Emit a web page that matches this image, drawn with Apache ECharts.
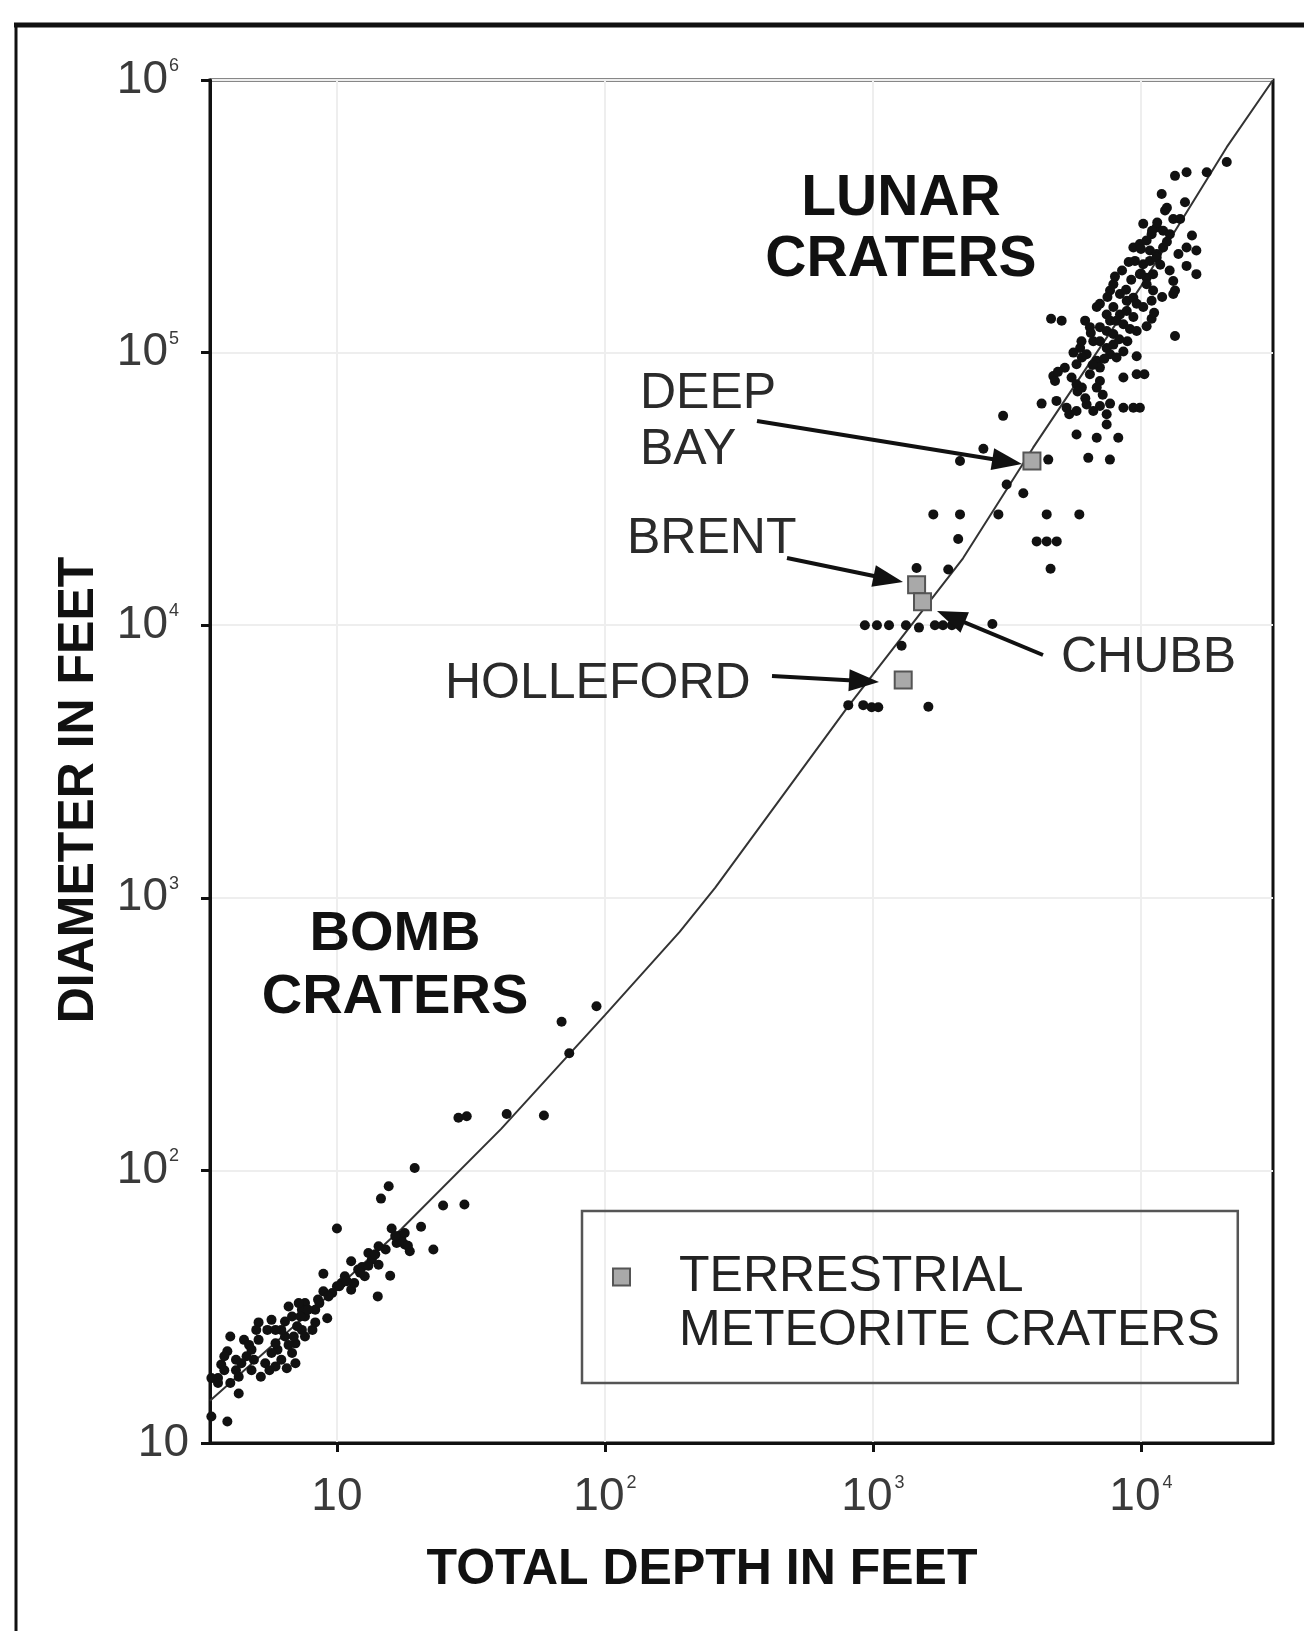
<!DOCTYPE html>
<html>
<head>
<meta charset="utf-8">
<title>Crater depth vs diameter</title>
<script src="https://cdn.jsdelivr.net/npm/echarts@6.0.0/dist/echarts.min.js"></script>
<style>
  html, body { margin: 0; padding: 0; background: #fff; }
  #chart { width: 1304px; height: 1631px; }
</style>
</head>
<body>
<div id="chart"></div>
<script>
// [total depth ft, diameter ft]
var bombCraters = [
    [19.5, 102], [15.6, 87.5], [14.6, 78.8], [24.9, 74.3], [29.9, 75], [10, 61.2], [16, 61.2], [20.6, 62.1],
    [22.9, 51.3], [17.1, 57.4], [17.9, 53.5], [18.7, 50.5], [16.7, 54.2], [14.3, 52.7], [13.1, 49.8], [11.3, 46.4],
    [8.9, 41.8], [15.8, 41.1], [14.2, 34.5], [12.7, 40.9], [14.3, 45.1], [11.3, 36.5], [10.4, 38.6], [9.6, 35.5],
    [8.9, 36], [9.2, 28.7], [8.3, 30.8], [7.6, 32.6], [6.6, 31.7], [8.1, 26], [7.4, 26], [7.6, 29.1],
    [6.4, 27.9], [5.1, 27.7], [5.7, 28.3], [7, 23.2], [6.4, 24.6], [6, 22], [5.7, 21.4], [5.9, 19.1],
    [6.5, 18.8], [5.2, 17.5], [4.9, 20.2], [4.6, 20.8], [4.5, 23.9], [4, 24.6], [5.1, 23.9], [3.9, 21.7],
    [3.7, 19.4], [4.2, 18.5], [3.6, 17.3], [4, 16.6], [4.3, 15.2], [3.4, 12.5], [3.9, 12], [7, 19.6],
    [5.4, 19.6], [4.8, 18.5], [7.6, 24.6], [10.7, 40.9], [12, 43.3], [13.5, 47.1], [6.8, 29.1], [8.5, 33.6],
    [7.4, 30.8], [8.3, 27.7], [5.9, 23.2], [6.2, 26], [6.8, 21.4], [4.3, 17.5], [3.8, 20.8], [11.6, 38.6],
    [10.2, 37.6], [12.4, 44.2], [15.2, 51.3], [17.4, 55.8], [18.4, 52.9], [3.4, 17.3],
    [4.2, 20.2], [4.7, 22.9], [5.5, 26], [5.9, 26], [7.1, 26.8], [7.3, 29.1], [7.8, 30.8], [8.6, 32.6],
    [9.3, 34.5], [10, 37.6], [10.9, 39.2], [12.2, 42.1], [13.1, 44.7], [13.9, 49.2], [6.2, 20.2], [5.6, 18.5],
    [6.9, 24.6], [6.6, 22.9], [4.8, 22], [4.4, 19.6], [3.8, 18.5], [3.6, 16.6], [5, 26], [7.2, 32.6],
    [17.9, 58.9], [16.5, 57.4],
    [93, 400], [68.9, 351], [73.6, 269], [28.4, 156], [30.5, 158], [43, 161], [59.2, 159]
];
var lunarCraters = [
    [20900, 500000], [17600, 459000], [14800, 459000], [13400, 445000], [11950, 382000], [14600, 356000],
    [12300, 332000], [10200, 297000], [13200, 309000], [14000, 309000], [11450, 288000], [12100, 280000],
    [12820, 272000], [10960, 272000], [15500, 269000], [9370, 243000], [9910, 250000], [10500, 258000],
    [10800, 237000], [11450, 230000], [12100, 243000], [14800, 243000], [16100, 237000], [9500, 217000],
    [10200, 211000], [10800, 217000], [11450, 223000], [14800, 208000], [16100, 194000], [9910, 194000],
    [10500, 188000], [11100, 194000], [10500, 178000], [11100, 169000], [7890, 178000], [7670, 169000],
    [8350, 164000], [8850, 155000], [9370, 159000], [9640, 151000], [10200, 147000], [10960, 155000],
    [13200, 183000], [13400, 169000], [13200, 164000], [7030, 151000], [6840, 147000], [7890, 147000],
    [8350, 138000], [8850, 142000], [9370, 135000], [7450, 138000], [7670, 131000], [8110, 131000],
    [8600, 127000], [10960, 133000], [7030, 124000], [7450, 120000], [7890, 117000], [9100, 122000],
    [9640, 120000], [4620, 133000], [5060, 131000], [6190, 131000], [6450, 124000], [13400, 115000],
    [6640, 110000], [7030, 110000], [7450, 104000], [7890, 107000], [5930, 104000], [6270, 98600],
    [7670, 98600], [8110, 95900], [8600, 101000], [9640, 97000], [6840, 93300], [7030, 88100],
    [5750, 90600], [6020, 95900], [4710, 82000], [4780, 78700], [5510, 81000], [5750, 76500],
    [6020, 74400], [6450, 83300], [7030, 78700], [6840, 74400], [8600, 81000], [9640, 83300],
    [10300, 83300], [4260, 65000], [4840, 66500], [5280, 62800], [5400, 59400], [5750, 61100],
    [6270, 64500], [6640, 61100], [7030, 63700], [7450, 59400], [7670, 65000], [8600, 62800],
    [9370, 62800], [9910, 62800], [5750, 50100], [6840, 48700], [8230, 48700], [7450, 54500],
    [3060, 58600],
    [8000, 190000], [8500, 200000], [9000, 215000], [10000, 240000], [11000, 280000], [11500, 300000],
    [12500, 340000], [8800, 170000], [9200, 185000], [7500, 160000], [6500, 118000], [6000, 110000],
    [5600, 100000], [5200, 88000], [4900, 85000], [5800, 72000], [6200, 68000], [7200, 70000],
    [6600, 90000], [7300, 95000], [8300, 112000], [8900, 110000], [10500, 125000], [11200, 140000],
    [12000, 160000], [12800, 200000], [13800, 230000], [10000, 195000], [11800, 210000], [12500, 255000],
    [2113, 40000], [2583, 44400], [4510, 40500], [6360, 41100], [7660, 40500], [3155, 32800],
    [3640, 30500], [1680, 25500], [2113, 25500], [2938, 25500], [4450, 25500], [5890, 25500],
    [2080, 20700], [4083, 20300], [4450, 20300], [4850, 20300], [4600, 16100],
    [933, 10000], [1035, 10000], [1148, 10000], [1328, 10000], [1485, 9800], [1703, 10000],
    [1825, 10000], [1971, 10000], [2790, 10100], [1279, 8410], [809, 5090], [920, 5090],
    [989, 5000], [1047, 5000], [1610, 5020], [1455, 16200], [1910, 16000]
];
var terrestrialNames = ['DEEP BAY', 'BRENT', 'CHUBB', 'HOLLEFORD'];
var terrestrialCraters = [[3920, 40000], [1455, 14060], [1531, 12200], [1297, 6300]];
var trendLine = [
    [3.36, 14.3], [10, 37], [17.4, 61], [41, 142], [100, 371], [190, 750], [258, 1090],
    [798, 4955], [2168, 17600], [3960, 44800], [10000, 175000], [20900, 567000], [31100, 1000000]
];
var xTicks = [10, 100, 1000, 10000];
var yTicks = [10, 100, 1000, 10000, 100000, 1000000];

var FONT = 'Liberation Sans, Arial, Helvetica, sans-serif';

function powLabel(v) {
    var e = Math.round(Math.log(v) / Math.LN10);
    if (e === 1) return '10';
    return '10{s|' + e + '}';
}

// arrow = shaft + filled head, pixel coordinates
function arrow(x1, y1, x2, y2) {
    var dx = x2 - x1, dy = y2 - y1;
    var len = Math.sqrt(dx * dx + dy * dy);
    var ux = dx / len, uy = dy / len;
    var hl = 30, hw = 11;
    var bx = x2 - ux * hl, by = y2 - uy * hl;
    return [{
        type: 'line', z: 100,
        shape: { x1: x1, y1: y1, x2: bx + ux * 4, y2: by + uy * 4 },
        style: { stroke: '#111', lineWidth: 4 }
    }, {
        type: 'polygon', z: 100,
        shape: { points: [[x2, y2], [bx - uy * hw, by + ux * hw], [bx + uy * hw, by - ux * hw]] },
        style: { fill: '#111' }
    }];
}

function label(text, x, y, opts) {
    opts = opts || {};
    return {
        type: 'text', z: 100, x: x, y: y,
        style: {
            text: text,
            fontFamily: FONT,
            fontSize: opts.size || 50,
            fontWeight: opts.bold ? 'bold' : 'normal',
            fill: opts.bold ? '#111' : '#2a2a2a',
            align: opts.align || 'left',
            verticalAlign: 'middle',
            lineHeight: opts.lh || 56
        }
    };
}

var graphics = [
    // outer frame
    { type: 'line', z: 100, shape: { x1: 14, y1: 25, x2: 1304, y2: 25 }, style: { stroke: '#111', lineWidth: 5 } },
    { type: 'line', z: 100, shape: { x1: 16, y1: 23, x2: 16, y2: 1631 }, style: { stroke: '#111', lineWidth: 3 } },
    label('LUNAR\nCRATERS', 901, 230, { bold: true, size: 57, align: 'center', lh: 61 }),
    label('BOMB\nCRATERS', 395, 966, { bold: true, size: 56, align: 'center', lh: 63 }),
    label('DEEP\nBAY', 640, 422, { lh: 56 }),
    label('BRENT', 627, 539),
    label('HOLLEFORD', 445, 684),
    label('CHUBB', 1061, 658)
];
graphics = graphics.concat(arrow(757, 421, 1022, 464));
graphics = graphics.concat(arrow(787, 558, 903, 582));
graphics = graphics.concat(arrow(772, 676, 879, 682));
graphics = graphics.concat(arrow(1043, 655, 937, 611));

var chart = echarts.init(document.getElementById('chart'));
chart.setOption({
    animation: false,
    backgroundColor: '#fff',
    textStyle: { fontFamily: FONT },
    grid: {
        left: 210, right: 31, top: 80, bottom: 188,
        show: true, borderColor: '#111', borderWidth: 3
    },
    legend: {
        left: 582, top: 1211,
        orient: 'vertical',
        data: ['TERRESTRIAL METEORITE CRATERS'],
        formatter: function () { return 'TERRESTRIAL\nMETEORITE CRATERS'; },
        // square sits at the top of a tall icon box so it lines up with the first text line
        icon: 'path://M0,0L17,0L17,17L0,17Z M0,71L0,71',
        itemWidth: 17, itemHeight: 71,
        itemStyle: { color: '#a9a9a9', borderColor: '#555', borderWidth: 2 },
        padding: [39, 18, 25, 30],
        borderColor: '#555', borderWidth: 2.5,
        textStyle: { fontSize: 50, lineHeight: 54, color: '#222', padding: [0, 0, 0, 44], fontFamily: FONT }
    },
    xAxis: {
        type: 'log', logBase: 10, min: 3.36, max: 31100,
        name: 'TOTAL DEPTH IN FEET', nameLocation: 'middle', nameGap: 102,
        nameTextStyle: { fontSize: 50, fontWeight: 'bold', color: '#111', padding: [0, 79, 0, 0] },
        axisLine: { lineStyle: { color: '#111', width: 3 } },
        axisTick: { customValues: xTicks, length: 9, lineStyle: { color: '#111', width: 3 } },
        axisLabel: {
            customValues: xTicks, margin: 31, color: '#3a3a3a', fontSize: 46,
            formatter: powLabel,
            rich: { s: { fontSize: 18, verticalAlign: 'top', color: '#3a3a3a', padding: [0, 0, 0, 2] } }
        },
        splitLine: { show: true, lineStyle: { color: '#eeeeee', width: 2 } }
    },
    yAxis: {
        type: 'log', logBase: 10, min: 10, max: 1000000,
        name: 'DIAMETER IN FEET', nameLocation: 'middle', nameGap: 106,
        nameTextStyle: { fontSize: 50, fontWeight: 'bold', color: '#111', padding: [0, 57, 0, 0] },
        axisLine: { lineStyle: { color: '#111', width: 3 } },
        axisTick: { customValues: yTicks, length: 9, lineStyle: { color: '#111', width: 3 } },
        axisLabel: {
            customValues: yTicks, margin: 21, color: '#3a3a3a', fontSize: 46,
            formatter: powLabel,
            rich: { s: { fontSize: 18, verticalAlign: 'top', color: '#3a3a3a', padding: [0, 10, 0, 1] } }
        },
        splitLine: { show: true, lineStyle: { color: '#eeeeee', width: 2 } }
    },
    series: [{
        name: 'trend',
        type: 'line',
        data: trendLine,
        showSymbol: false,
        lineStyle: { color: '#333', width: 2 },
        z: 2
    }, {
        name: 'BOMB CRATERS',
        type: 'scatter',
        data: bombCraters,
        symbolSize: 10,
        itemStyle: { color: '#111', opacity: 1 },
        z: 3
    }, {
        name: 'LUNAR CRATERS',
        type: 'scatter',
        data: lunarCraters,
        symbolSize: 10,
        itemStyle: { color: '#111', opacity: 1 },
        z: 3
    }, {
        name: 'TERRESTRIAL METEORITE CRATERS',
        type: 'scatter',
        symbol: 'rect',
        symbolSize: 17,
        data: terrestrialCraters.map(function (d, i) { return { name: terrestrialNames[i], value: d }; }),
        itemStyle: { color: '#a9a9a9', borderColor: '#555', borderWidth: 2, opacity: 1 },
        z: 4
    }],
    graphic: graphics
});
</script>
</body>
</html>
